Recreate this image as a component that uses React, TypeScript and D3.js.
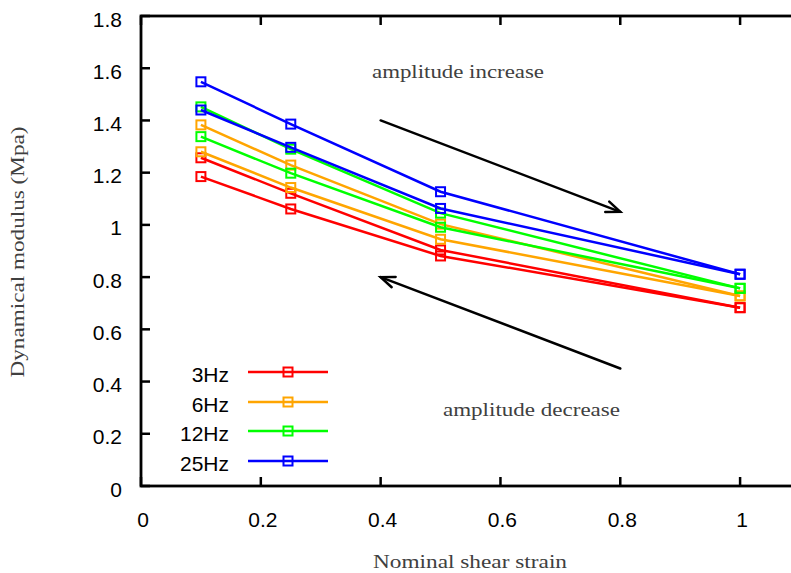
import React from "react";
import * as d3 from "d3";

const strain = [0.1, 0.25, 0.5, 1];
const hz3A = [1.185, 1.061, 0.881, 0.683];
const hz3B = [1.257, 1.121, 0.904, 0.683];
const hz6A = [1.28, 1.143, 0.945, 0.728];
const hz6B = [1.383, 1.229, 1.003, 0.728];
const hz12A = [1.338, 1.198, 0.991, 0.757];
const hz12B = [1.452, 1.29, 1.045, 0.757];
const hz25A = [1.44, 1.297, 1.063, 0.811];
const hz25B = [1.548, 1.386, 1.127, 0.811];
const legendLabels = ["3Hz", "6Hz", "12Hz", "25Hz"];
const colors = ["#ff0000", "#ffa500", "#00ff00", "#0000ff"];
const xTicks = [0, 0.2, 0.4, 0.6, 0.8, 1];
const yTicks = [0, 0.2, 0.4, 0.6, 0.8, 1, 1.2, 1.4, 1.6, 1.8];

const seriesList = [
  { c: 0, v: hz3A }, { c: 0, v: hz3B },
  { c: 1, v: hz6A }, { c: 1, v: hz6B },
  { c: 2, v: hz12A }, { c: 2, v: hz12B },
  { c: 3, v: hz25A }, { c: 3, v: hz25B },
];

const W = 791, H = 573;
const x = d3.scaleLinear().domain([0, 1.1]).range([141, 800]);
const y = d3.scaleLinear().domain([0, 1.8]).range([486, 16]);
const line = d3.line<[number, number]>().x(d => x(d[0])).y(d => y(d[1]));

const fmt = (v: number) => (v === 0 || v === 1 ? String(v) : v.toFixed(1));
const sans = "'Liberation Sans', Arial, sans-serif";
const serif = "'Liberation Serif', 'DejaVu Serif', serif";

function Arrow({ x1, y1, x2, y2 }: { x1: number; y1: number; x2: number; y2: number }) {
  const ang = Math.atan2(y2 - y1, x2 - x1);
  const L = 15, a = 0.38;
  const p1 = [x2 - L * Math.cos(ang - a), y2 - L * Math.sin(ang - a)];
  const p2 = [x2 - L * Math.cos(ang + a), y2 - L * Math.sin(ang + a)];
  return (
    <g stroke="#000" strokeWidth={2.5} fill="none" strokeLinecap="round">
      <line x1={x1} y1={y1} x2={x2} y2={y2} />
      <polyline points={`${p1[0]},${p1[1]} ${x2},${y2} ${p2[0]},${p2[1]}`} strokeLinejoin="miter" />
    </g>
  );
}

function Marker({ cx, cy, color }: { cx: number; cy: number; color: string }) {
  return <rect x={cx - 4.5} y={cy - 4.5} width={9} height={9} fill="none" stroke={color} strokeWidth={2} />;
}

export default function App() {
  const [x0, x1] = x.range();
  const [y0, y1] = y.range();
  const legendY = [372, 402, 431, 461];
  return (
    <svg width={W} height={H} style={{ position: "absolute", left: 0, top: 0, background: "#fff" }}>
      <rect width={W} height={H} fill="#fff" />
      {/* ticks */}
      <g stroke="#000" strokeWidth={2.5}>
        {yTicks.map(t => (
          <g key={"yt" + t}>
            <line x1={x0} x2={x0 + 9} y1={y(t)} y2={y(t)} />
            <line x1={x1} x2={x1 - 9} y1={y(t)} y2={y(t)} />
          </g>
        ))}
        {xTicks.map(t => (
          <g key={"xt" + t}>
            <line x1={x(t)} x2={x(t)} y1={y0} y2={y0 - 9} />
            <line x1={x(t)} x2={x(t)} y1={y1} y2={y1 + 9} />
          </g>
        ))}
      </g>
      {/* tick labels */}
      <g fontFamily={sans} fontSize={21} fill="#000">
        {yTicks.map(t => (
          <text key={"yl" + t} x={122} y={y(t) + 3} textAnchor="end" dominantBaseline="central">{fmt(t)}</text>
        ))}
        {xTicks.map(t => (
          <text key={"xl" + t} x={x(t) + 2} y={519} textAnchor="middle" dominantBaseline="central">{fmt(t)}</text>
        ))}
      </g>
      {/* series */}
      {seriesList.map((s, i) => {
        const pts = strain.map((st, j) => [st, s.v[j]] as [number, number]);
        return (
          <g key={"s" + i}>
            <path d={line(pts) || ""} fill="none" stroke={colors[s.c]} strokeWidth={2.5} />
            {pts.map((p, j) => (
              <Marker key={j} cx={x(p[0])} cy={y(p[1])} color={colors[s.c]} />
            ))}
          </g>
        );
      })}
      {/* legend */}
      {legendLabels.map((lab, i) => (
        <g key={"lg" + i}>
          <text x={229} y={legendY[i] + 2} textAnchor="end" dominantBaseline="central" fontFamily={sans} fontSize={21}>{lab}</text>
          <line x1={248} x2={328} y1={legendY[i]} y2={legendY[i]} stroke={colors[i]} strokeWidth={2.5} />
          <Marker cx={288} cy={legendY[i]} color={colors[i]} />
        </g>
      ))}
      {/* arrows */}
      <Arrow x1={x(0.4)} y1={y(1.4)} x2={x(0.8)} y2={y(1.05)} />
      <Arrow x1={x(0.8)} y1={y(0.45)} x2={x(0.4)} y2={y(0.8)} />
      {/* annotations */}
      <g fontFamily={serif} fontSize={19} fill="#404040">
        <text x={372} y={78} textLength={172} lengthAdjust="spacingAndGlyphs">amplitude increase</text>
        <text x={443} y={416} textLength={177} lengthAdjust="spacingAndGlyphs">amplitude decrease</text>
        <text x={470} y={568} textAnchor="middle" textLength={194} lengthAdjust="spacingAndGlyphs">Nominal shear strain</text>
        <text transform="translate(24,252) rotate(-90)" textAnchor="middle" textLength={251} lengthAdjust="spacingAndGlyphs">Dynamical modulus (Mpa)</text>
      </g>
      {/* frame */}
      <rect x={x0} y={y1} width={x1 - x0} height={y0 - y1} fill="none" stroke="#000" strokeWidth={2.8} />
    </svg>
  );
}
